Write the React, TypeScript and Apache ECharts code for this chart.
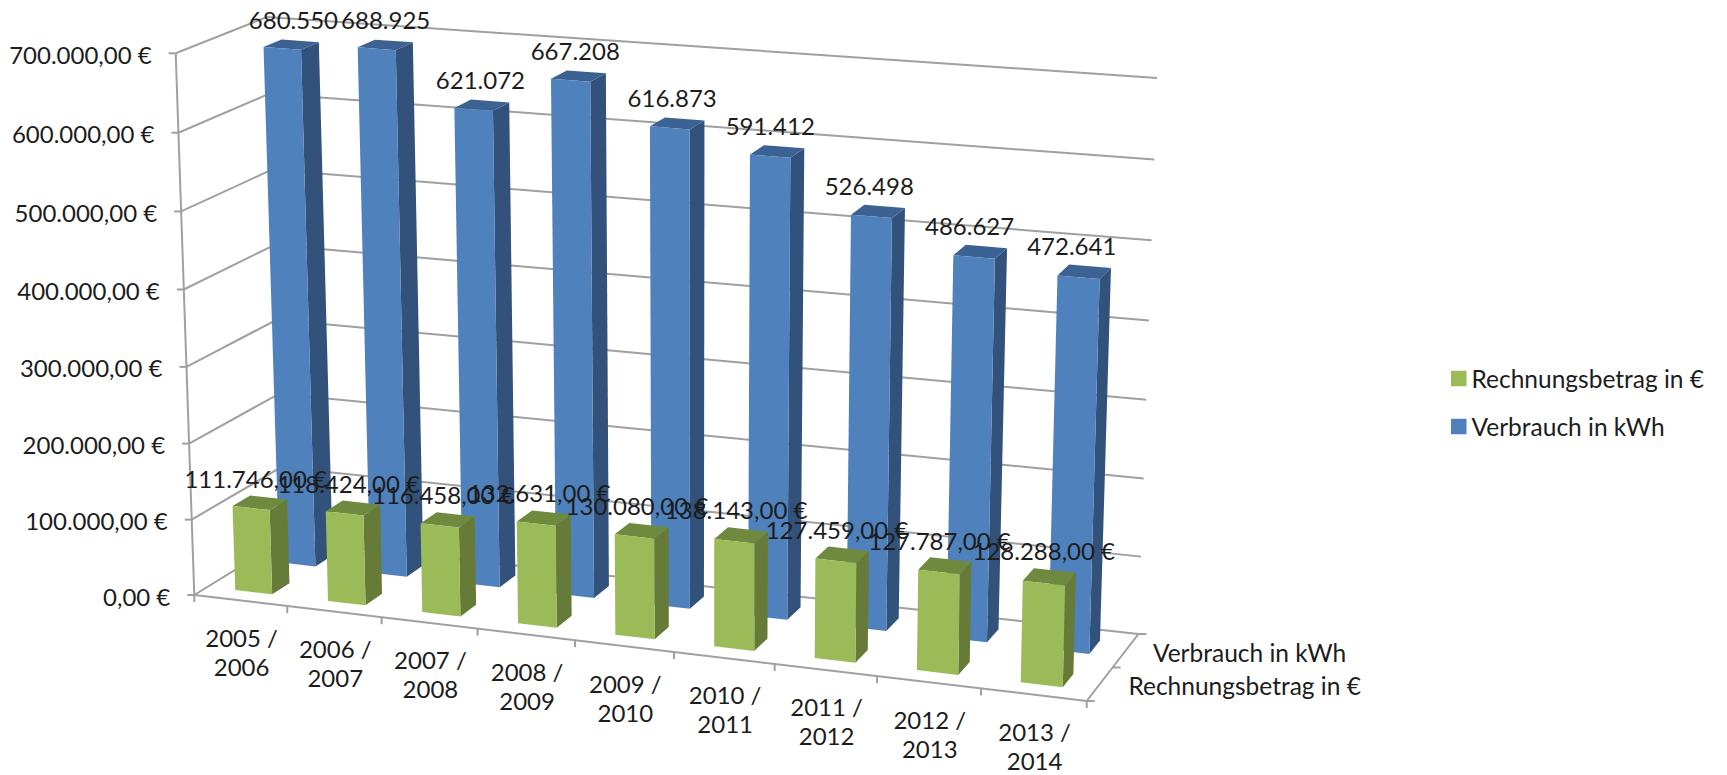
import React, { useEffect, useRef } from "react";
import * as echarts from "echarts";

const categories = ["2005 /\n2006", "2006 /\n2007", "2007 /\n2008", "2008 /\n2009", "2009 /\n2010", "2010 /\n2011", "2011 /\n2012", "2012 /\n2013", "2013 /\n2014"];
const verbrauch = [680550, 688925, 621072, 667208, 616873, 591412, 526498, 486627, 472641];
const rechnung = [111746, 118424, 116458, 132631, 130080, 138143, 127459, 127787, 128288];
const yTicks = [0, 100000, 200000, 300000, 400000, 500000, 600000, 700000];
const depthNames = ["Rechnungsbetrag in €", "Verbrauch in kWh"];

const FONT = "Lato";
const TEXT = "#1c1c1c";
const GRID = "#a0a0a0";

// corners of the 3D box on screen: [along categories][depth][height]
const C: number[][][][] = [
  [[[194.3, 595], [175.7, 53.3]], [[283.5, 540], [267, 17]]],
  [[[1086.7, 701], [1100, 128]], [[1138.5, 634], [1157, 78]]],
];
const warp = (t: number, k: number) => (t * k) / (1 + (k - 1) * t);
const mix = (a: number[], b: number[], t: number) => [a[0] + (b[0] - a[0]) * t, a[1] + (b[1] - a[1]) * t];
function project(u: number, v: number, w: number) {
  const t = warp(u, 0.93);
  const h = warp(w, 0.97);
  const a = mix(mix(C[0][0][0], C[0][0][1], h), mix(C[0][1][0], C[0][1][1], h), v);
  const b = mix(mix(C[1][0][0], C[1][0][1], h), mix(C[1][1][0], C[1][1][1], h), v);
  return mix(a, b, t);
}

const fmt = (v: number) => String(v).replace(/\B(?=(\d{3})+$)/g, ".");
const txt = (text: string, x: number, y: number, align = "center", extra: any = {}) => ({
  type: "text",
  z2: 100,
  silent: true,
  style: { text, x, y, fill: TEXT, fontFamily: FONT, fontSize: 24, lineHeight: 20, align, verticalAlign: "middle", ...extra },
});
const seg = (a: number[], b: number[], width = 2) => ({
  type: "line",
  silent: true,
  shape: { x1: a[0], y1: a[1], x2: b[0], y2: b[1] },
  style: { stroke: GRID, lineWidth: width },
});

function norm(params: any, api: any, idx: number, val: number) {
  const p = api.coord([idx, val]);
  const cs = params.coordSys;
  return { u: (p[0] - cs.x) / cs.width, w: (cs.y + cs.height - p[1]) / cs.height, du: api.size([1, 0])[0] / cs.width };
}

function barRenderer(row: number, colors: string[], label: (v: number) => string, dx0: number, dx1: number, dy: number) {
  return (params: any, api: any) => {
    const i = api.value(0);
    const val = api.value(1);
    const { u, w, du } = norm(params, api, i, val);
    const u0 = u - 0.2 * du;
    const u1 = u + 0.2 * du;
    const v0 = row - 0.1;
    const v1 = row + 0.1;
    const P = project;
    const poly = (pts: number[][], fill: string) => ({ type: "polygon", silent: true, shape: { points: pts }, style: { fill } });
    const topBack = P(u, v1, w);
    return {
      type: "group",
      children: [
        poly([P(u1, v0, 0), P(u1, v1, 0), P(u1, v1, w), P(u1, v0, w)], colors[1]),
        poly([P(u0, v0, w), P(u1, v0, w), P(u1, v1, w), P(u0, v1, w)], colors[2]),
        poly([P(u0, v0, 0), P(u1, v0, 0), P(u1, v0, w), P(u0, v0, w)], colors[0]),
        txt(label(val), topBack[0] + dx0 + (dx1 - dx0) * u, topBack[1] + dy),
      ],
    };
  };
}

const renderWalls = (params: any, api: any) => {
  const val = api.value(1);
  const { w } = norm(params, api, 0, val);
  const a = project(0, 0, w);
  const b = project(0, 1, w);
  const c = project(1, 1, w);
  return {
    type: "group",
    children: [
      seg(a, b),
      seg(b, c),
      seg([a[0] - 7, a[1]], a),
      txt(fmt(val) + ",00 €", a[0] - 24, a[1] + 1, "right"),
    ],
  };
};

const renderCategory = (params: any, api: any) => {
  const i = api.value(0);
  const { u, du } = norm(params, api, i, 0);
  const end = project(u + du / 2, 0, 0);
  const mid = project(u, 0, 0);
  const [l1, l2] = categories[i].split("\n");
  return {
    type: "group",
    children: [
      seg(end, [end[0], end[1] + 7]),
      txt(l1, mid[0] + 1, mid[1] + 37),
      txt(l2, mid[0] + 1, mid[1] + 66),
    ],
  };
};

const renderDepth = (params: any, api: any) => {
  const i = api.value(0);
  const anchor = project(1, i === 0 ? 0.25 : 0.75, 0);
  const dx = [145, 124];
  return {
    type: "group",
    children: [txt(depthNames[i], anchor[0] + dx[i], anchor[1] + 1.5, "center", { fontSize: 24.5 })],
  };
};

const renderFrame = () => {
  const fl = project(0, 0, 0);
  const fr = project(1, 0, 0);
  const br = project(1, 1, 0);
  const mid = project(1, 0.5, 0);
  return {
    type: "group",
    children: [
      seg(fl, fr),
      seg(fr, br),
      seg(fl, project(0, 0, 1)),
      seg(fl, [fl[0], fl[1] + 7]),
      seg(fr, [fr[0] + 8, fr[1]]),
      seg(mid, [mid[0] + 8, mid[1]]),
      seg(br, [br[0] + 8, br[1]]),
    ],
  };
};

export default function App() {
  const ref = useRef<HTMLDivElement>(null);
  useEffect(() => {
    const chart = echarts.init(ref.current!, null, { renderer: "svg" });
    chart.setOption({
      animation: false,
      backgroundColor: "#ffffff",
      grid: { left: 0, top: 0, width: 900, height: 700, show: false },
      xAxis: { type: "category", data: categories, show: false },
      yAxis: { type: "value", min: 0, max: 700000, interval: 100000, show: false },
      legend: {
        left: 1451,
        top: 366,
        padding: 0,
        orient: "vertical",
        icon: "rect",
        itemWidth: 15.5,
        itemHeight: 15.5,
        itemGap: 23,
        data: ["Rechnungsbetrag in €", "Verbrauch in kWh"],
        selectedMode: false,
        textStyle: { fontFamily: FONT, fontSize: 24.5, color: TEXT, lineHeight: 25 },
      },
      series: [
        { type: "custom", name: "Wände", silent: true, z: 1, coordinateSystem: "cartesian2d", data: yTicks.map((v) => [0, v]), encode: { x: 0, y: 1 }, renderItem: renderWalls },
        { type: "custom", name: "Rahmen", silent: true, z: 1, coordinateSystem: "cartesian2d", data: [[0, 0]], encode: { x: 0, y: 1 }, renderItem: renderFrame },
        { type: "custom", name: "Kategorien", silent: true, z: 1, coordinateSystem: "cartesian2d", data: categories.map((_, i) => [i, 0]), encode: { x: 0, y: 1 }, renderItem: renderCategory },
        { type: "custom", name: "Tiefe", silent: true, z: 1, coordinateSystem: "cartesian2d", data: depthNames.map((_, i) => [i, 0]), encode: { x: 0, y: 1 }, renderItem: renderDepth },
        {
          type: "custom", name: "Verbrauch in kWh", silent: true, z: 2, coordinateSystem: "cartesian2d",
          itemStyle: { color: "#4F81BD" },
          data: verbrauch.map((v, i) => [i, v]), encode: { x: 0, y: 1 },
          renderItem: barRenderer(0.75, ["#4F81BD", "#32527B", "#3B6292"], fmt, -6, -19, -21),
        },
        {
          type: "custom", name: "Rechnungsbetrag in €", silent: true, z: 3, coordinateSystem: "cartesian2d",
          itemStyle: { color: "#9BBB59" },
          data: rechnung.map((v, i) => [i, v]), encode: { x: 0, y: 1 },
          renderItem: barRenderer(0.25, ["#9BBB59", "#667B37", "#6F8A3E"], (v) => fmt(v) + ",00 €", -13, -11, -19.5),
        },
      ],
    });
    return () => chart.dispose();
  }, []);
  return <div ref={ref} style={{ position: "absolute", left: 0, top: 0, width: 1727, height: 775 }} />;
}
